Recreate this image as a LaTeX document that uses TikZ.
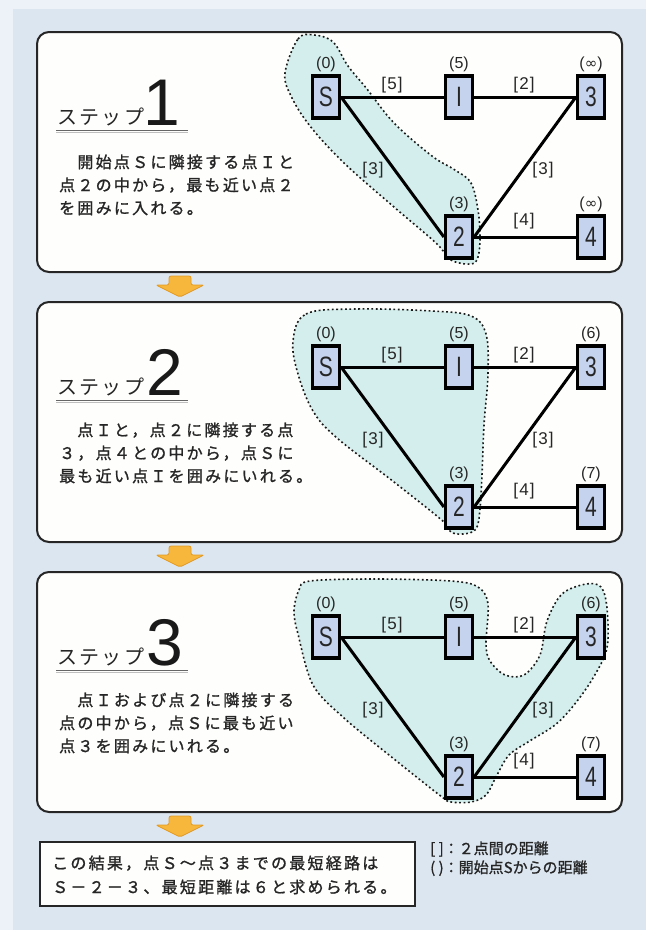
\documentclass[tikz,border=0pt]{standalone}
\usepackage{fontspec}
\usepackage{graphicx}
\setmainfont{Liberation Sans}
\newfontfamily\jp[FakeBold=1]{Noto Sans CJK JP}
\newfontfamily\jpsp[LetterSpace=14,FakeBold=1.2]{Noto Sans CJK JP}
\newfontfamily\jptt[LetterSpace=12]{Noto Sans CJK JP}
\newfontfamily\dvs{DejaVu Sans}
\usetikzlibrary{positioning}
\definecolor{bgc}{HTML}{DCE6F0}
\definecolor{bgm}{HTML}{EDF2F8}
\definecolor{panc}{HTML}{FEFEFC}
\definecolor{regc}{HTML}{D3EEEC}
\definecolor{boxc}{HTML}{C6D3EF}
\definecolor{txt}{HTML}{262626}
\definecolor{orf}{HTML}{F6B73C}
\definecolor{ord}{HTML}{E39A25}
\tikzset{
  panel/.style={draw=black!85, line width=2pt, fill=panc, rounded corners=12pt},
  vbox/.style={draw=black, line width=3.2pt, fill=boxc, minimum width=27pt, minimum height=42pt, inner sep=0pt, font=\fontsize{28}{28}\selectfont, text=txt},
  edge/.style={line width=3pt, black},
  dlab/.style={font=\fontsize{16}{16}\selectfont, text=txt, inner sep=0pt},
  elab/.style={font=\fontsize{17}{17}\selectfont, text=txt, inner sep=0pt},
  region/.style={fill=regc, draw=black!90, line width=1.6pt, dash pattern=on 1.8pt off 2.6pt},
  body/.style={anchor=base west, inner sep=0pt, font=\jpsp\fontsize{16}{16}\selectfont, text=txt},
  sttl/.style={anchor=base west, inner sep=0pt, font=\jptt\fontsize{20}{20}\selectfont, text=txt},
  bign/.style={anchor=base west, inner sep=0pt, font=\fontsize{66}{66}\selectfont, text=black!90},
  oarrow/.style={fill=orf, draw=ord, line width=0.8pt, rounded corners=2pt},
  rbox/.style={draw=black!85, line width=2pt, fill=panc},
  legd/.style={anchor=base west, inner sep=0pt, font=\jp\fontsize{15}{15}\selectfont, text=txt},
}
\newcommand\vl[1]{\scalebox{0.75}[1]{#1}}
\newcommand\el[1]{[\kern1.2pt#1\kern1.2pt]}
\newcommand\infl{({\dvs\fontsize{15}{15}\selectfont ∞})}
\newcommand\dgraph[4]{%
  \begin{scope}[yshift=-#2pt]
    \node[vbox] (S#1) at (326,97) {\vl{S}};
    \node[vbox] (I#1) at (459,97) {\vl{I}};
    \node[vbox] (T#1) at (591,97) {\vl{3}};
    \node[vbox] (B#1) at (459,237) {\vl{2}};
    \node[vbox] (F#1) at (591,237) {\vl{4}};
    \draw[edge] (S#1.east) -- (I#1.west);
    \draw[edge] (I#1.east) -- (T#1.west);
    \draw[edge] (S#1.east) -- (B#1.west);
    \draw[edge] (B#1.east) -- (T#1.west);
    \draw[edge] (B#1.east) -- (F#1.west);
    \node[dlab, anchor=south] (dS#1) at ([yshift=2pt]S#1.north) {(0)};
    \node[dlab, anchor=south] (dI#1) at ([yshift=2pt]I#1.north) {(5)};
    \node[dlab, anchor=south] (dT#1) at ([yshift=2pt]T#1.north) {#3};
    \node[dlab, anchor=south] (dB#1) at ([yshift=2pt]B#1.north) {(3)};
    \node[dlab, anchor=south] (dF#1) at ([yshift=2pt]F#1.north) {#4};
    \node[elab] (e5#1) at (392,85) {\el{5}};
    \node[elab] (e2#1) at (524,85) {\el{2}};
    \node[elab] (e3a#1) at (373,170) {\el{3}};
    \node[elab] (e3b#1) at (543,170) {\el{3}};
    \node[elab] (e4#1) at (524,221) {\el{4}};
  \end{scope}}
\newcommand\orarrow[2]{%
  \draw[oarrow] ({#1-11},#2) -- ({#1+11},#2) -- ({#1+11},{#2+9}) -- ({#1+24},{#2+9})
    -- (#1,{#2+21}) -- ({#1-24},{#2+9}) -- ({#1-11},{#2+9}) -- cycle;}
\begin{document}
\begin{tikzpicture}[x=1pt,y=-1pt]
\useasboundingbox (0,0) rectangle (646,930);
\fill[bgm] (0,0) rectangle (646,930);
\fill[bgc] (13,9) rectangle (646,930);

% ---------- panel 1
\draw[panel] (37,32) rectangle (622,272);
\draw[region] plot[smooth cycle, tension=0.6] coordinates {(285,73) (298,39) (314,35) (333,42) (348,66) (367,89) (394,123) (432,156) (455,170) (471,183) (478,210) (480,237) (478,257) (471,264) (451,260) (436,243) (394,207) (344,163) (310,126) (291,96)};
\dgraph{a}{0}{\infl}{\infl}
\node[sttl] (st1) at (57,124) {ステップ};
\node[bign] (n1) at (143,125) {1};
\draw[black!60, line width=1.2pt] (56,130.5) -- (188,130.5);
\draw[black!25, line width=1pt] (56,132.2) -- (188,132.2);
\node[body] (t1a) at (59,168) {　開始点Ｓに隣接する点Ｉと};
\node[body] (t1b) at (59,191) {点２の中から，最も近い点２};
\node[body] (t1c) at (59,214) {を囲みに入れる。};

\orarrow{180}{276}

% ---------- panel 2
\draw[panel] (37,302) rectangle (622,542);
\draw[region] plot[smooth cycle, tension=0.6] coordinates {(293,341) (306,314) (356,309) (432,311) (471,316) (486,334) (488,374) (484,425) (482,475) (480,509) (476,529) (463,534) (451,532) (444,522) (394,482) (337,438) (313,411) (298,374)};
\dgraph{b}{270}{(6)}{(7)}
\node[sttl] (st2) at (57,394) {ステップ};
\node[bign] (n2) at (146,395) {2};
\draw[black!60, line width=1.2pt] (56,400.5) -- (188,400.5);
\draw[black!25, line width=1pt] (56,402.2) -- (188,402.2);
\node[body] (t2a) at (59,436) {　点Ｉと，点２に隣接する点};
\node[body] (t2b) at (59,459) {３，点４との中から，点Ｓに};
\node[body] (t2c) at (59,482) {最も近い点Ｉを囲みにいれる。};

\orarrow{180}{546}

% ---------- panel 3
\draw[panel] (37,572) rectangle (622,812);
\draw[region] plot[smooth cycle, tension=0.55] coordinates {(294,611) (299,590) (310,581) (375,579) (451,581) (478,587) (488,604) (486,644) (490,661) (505,675) (524,675) (540,655) (547,621) (562,594) (586,584) (601,587) (607,608) (607,648) (593,678) (574,705) (555,725) (528,742) (509,755) (497,775) (486,795) (471,802) (451,802) (442,797) (394,759) (344,718) (313,685) (298,634)};
\dgraph{c}{540}{(6)}{(7)}
\node[sttl] (st3) at (57,664) {ステップ};
\node[bign] (n3) at (146,665) {3};
\draw[black!60, line width=1.2pt] (56,670.5) -- (188,670.5);
\draw[black!25, line width=1pt] (56,672.2) -- (188,672.2);
\node[body] (t3a) at (59,706) {　点Ｉおよび点２に隣接する};
\node[body] (t3b) at (59,729) {点の中から，点Ｓに最も近い};
\node[body] (t3c) at (59,752) {点３を囲みにいれる。};

\orarrow{180}{816}

% ---------- result box and legend
\draw[rbox] (40,842) rectangle (415,906);
\node[body] (r1) at (52,869) {この結果，点Ｓ～点３までの最短経路は};
\node[body] (r2) at (52,893) {Ｓ－２－３、最短距離は６と求められる。};
\node[legd] (lg1) at (430,854) {[ ]：２点間の距離};
\node[legd] (lg2) at (430,873) {( )：開始点Sからの距離};
\end{tikzpicture}
\end{document}
